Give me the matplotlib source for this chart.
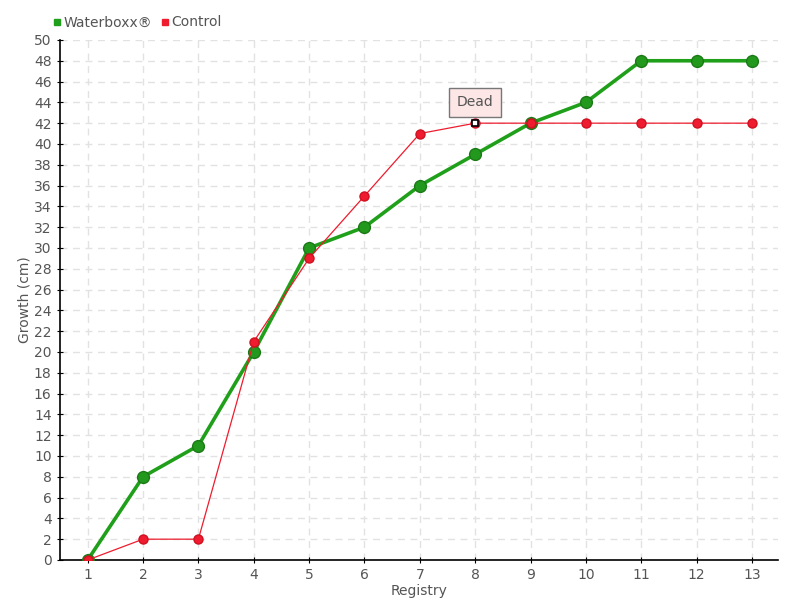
import matplotlib.pyplot as plt

# Data
registry = [1, 2, 3, 4, 5, 6, 7, 8, 9, 10, 11, 12, 13]
waterboxx = [0, 8, 11, 20, 30, 32, 36, 39, 42, 44, 48, 48, 48]
control = [0, 2, 2, 21, 29, 35, 41, 42, 42, 42, 42, 42, 42]
dead_index = 7

green = '#20a01a'
red = '#ee1c2e'
text_col = '#555555'

fig = plt.figure(figsize=(8, 6), dpi=100)
ax = fig.add_axes([0.075, 0.0667, 0.8975, 0.8667])

ax.plot(registry, waterboxx, color=green, lw=2.6, marker='o', ms=8.5,
        mfc='#22991c', mec='#1b7a17', mew=1, zorder=3, label='Waterboxx®')
ax.plot(registry, control, color=red, lw=0.9, marker='o', ms=6.5,
        mfc=red, mec='#d01020', zorder=4, label='Control')

# the dead plant
ax.plot(registry[dead_index], control[dead_index], marker='s', ms=5,
        mfc='white', mec='black', mew=1.2, zorder=5)
ax.annotate('Dead', xy=(registry[dead_index], control[dead_index]),
            xytext=(0, 15), textcoords='offset points', ha='center',
            va='center', fontsize=10, color=text_col,
            bbox=dict(boxstyle='square,pad=0.55', fc='#fde6e6', ec='#777777', lw=1),
            zorder=6)

ax.set_xlim(0.5, 13.47)
ax.set_ylim(0, 50)
ax.set_xticks(registry)
ax.set_yticks(range(0, 51, 2))
ax.tick_params(direction='inout', length=5, colors='black', labelcolor=text_col,
               labelsize=10)
ax.grid(True, ls=(0, (5, 4)), color='#e2e2e2', lw=1)
ax.set_axisbelow(True)
for s in ['top', 'right']:
    ax.spines[s].set_visible(False)
ax.spines['left'].set_linewidth(1.2)
ax.spines['bottom'].set_linewidth(1.2)

ax.set_xlabel('Registry', color=text_col, fontsize=10, labelpad=1)
ax.set_ylabel('Growth (cm)', color=text_col, fontsize=10, labelpad=2)

handles = [
    plt.Line2D([], [], color=green, marker='s', ls='', ms=5),
    plt.Line2D([], [], color=red, marker='s', ls='', ms=5),
]
fig.legend(handles, ['Waterboxx®', 'Control'], loc='upper left',
           bbox_to_anchor=(0.05, 0.995), ncol=2, frameon=False, fontsize=10,
           handlelength=0.6, handletextpad=0.2, columnspacing=0.6,
           labelcolor=text_col)

plt.savefig('out.png')
